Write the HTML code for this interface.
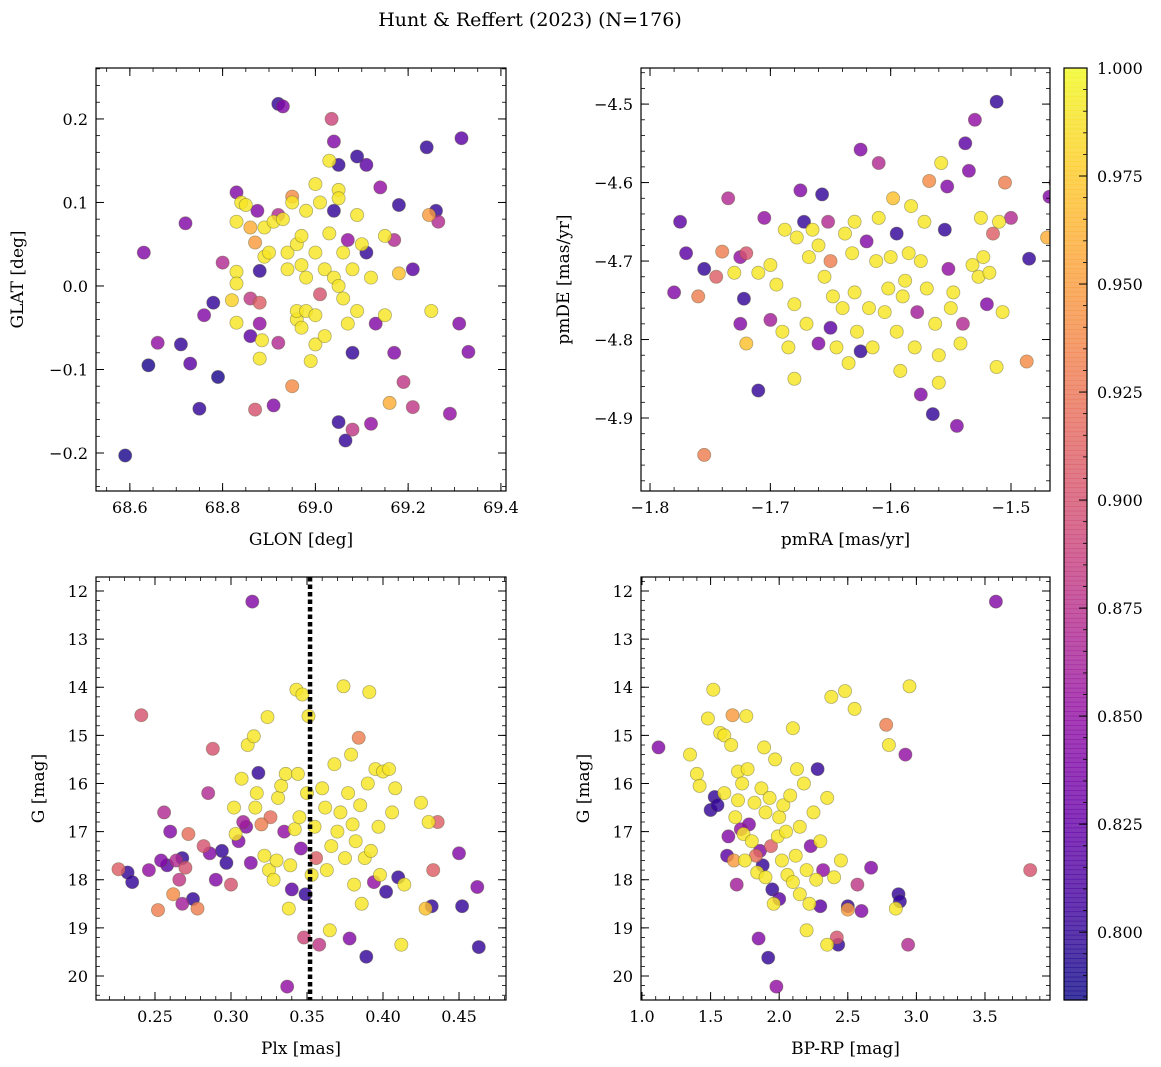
<!DOCTYPE html>
<html><head><meta charset="utf-8">
<style>
html,body{margin:0;padding:0;background:#fff;}
svg{display:block;font-family:"DejaVu Serif","Liberation Serif",serif;}
</style></head>
<body>
<svg id="fig" width="1161" height="1067" viewBox="0 0 1161 1067" xmlns="http://www.w3.org/2000/svg">
<text x="530" y="26" font-size="19" text-anchor="middle">Hunt &amp; Reffert (2023) (N=176)</text>
</svg>
<script>
// ---- data arrays ----
const glonGlat = [[68.59,-0.203,0.79],[68.63,0.04,0.84],[68.64,-0.095,0.79],[68.66,-0.068,0.85],[68.71,-0.07,0.80],[68.72,0.075,0.84],[68.73,-0.093,0.82],[68.75,-0.147,0.80],[68.76,-0.035,0.84],[68.78,-0.02,0.80],[68.79,-0.109,0.79],[68.80,0.028,0.87],[68.82,-0.017,0.98],[68.83,0.112,0.84],[68.83,0.077,0.99],[68.83,0.017,0.99],[68.83,0.003,0.99],[68.83,-0.044,0.99],[68.84,0.1,0.99],[68.85,0.097,0.99],[68.86,0.07,0.96],[68.86,-0.015,0.88],[68.86,-0.06,0.82],[68.87,-0.148,0.90],[68.87,0.052,0.95],[68.875,0.09,0.84],[68.88,0.018,0.80],[68.88,-0.045,0.85],[68.88,-0.087,0.99],[68.885,-0.065,0.99],[68.88,-0.02,0.91],[68.89,0.07,0.99],[68.89,0.035,0.99],[68.90,0.04,0.99],[68.91,-0.143,0.84],[68.91,0.077,0.99],[68.92,0.218,0.80],[68.92,0.085,0.87],[68.92,-0.068,0.87],[68.93,0.215,0.84],[68.93,0.08,0.99],[68.94,0.04,0.99],[68.94,0.02,0.99],[68.95,-0.12,0.94],[68.95,0.107,0.94],[68.95,0.1,0.99],[68.96,0.05,0.99],[68.96,-0.04,0.99],[68.96,-0.03,0.99],[68.97,0.06,0.99],[68.97,0.025,0.99],[68.97,-0.05,0.99],[68.98,0.09,0.99],[68.98,0.01,0.99],[68.98,-0.03,0.99],[68.99,-0.09,0.99],[69.0,0.122,0.99],[69.0,0.04,0.99],[69.0,-0.07,0.99],[69.0,-0.035,0.99],[69.01,0.1,0.99],[69.01,-0.01,0.90],[69.02,0.02,0.99],[69.02,-0.06,0.99],[69.03,0.063,0.99],[69.03,0.15,0.99],[69.035,0.2,0.89],[69.04,0.173,0.84],[69.04,0.09,0.80],[69.04,0.01,0.99],[69.05,0.145,0.80],[69.05,-0.163,0.80],[69.05,0.115,0.99],[69.05,0.105,0.99],[69.05,0,0.99],[69.06,-0.015,0.99],[69.06,0.04,0.99],[69.065,-0.185,0.80],[69.07,0.055,0.85],[69.07,-0.045,0.99],[69.08,-0.08,0.80],[69.08,-0.172,0.88],[69.08,0.02,0.99],[69.09,0.155,0.80],[69.09,0.085,0.99],[69.09,-0.03,0.99],[69.10,0.05,0.99],[69.11,0.145,0.82],[69.11,0.04,0.80],[69.12,-0.165,0.85],[69.12,0.01,0.99],[69.13,-0.045,0.84],[69.14,0.118,0.85],[69.15,0.06,0.99],[69.15,-0.035,0.99],[69.16,-0.14,0.96],[69.17,-0.08,0.84],[69.17,0.055,0.87],[69.18,0.097,0.80],[69.18,0.015,0.97],[69.19,-0.115,0.88],[69.21,-0.145,0.88],[69.21,0.02,0.82],[69.24,0.166,0.80],[69.245,0.085,0.95],[69.25,-0.03,0.99],[69.26,0.09,0.80],[69.265,0.077,0.87],[69.29,-0.153,0.85],[69.31,-0.045,0.84],[69.315,0.177,0.82],[69.33,-0.079,0.84]];
const pmPoints = [[-1.78,-4.74,0.84],[-1.775,-4.65,0.82],[-1.77,-4.69,0.82],[-1.76,-4.745,0.93],[-1.755,-4.71,0.80],[-1.745,-4.72,0.91],[-1.74,-4.688,0.93],[-1.735,-4.62,0.87],[-1.73,-4.715,0.99],[-1.725,-4.695,0.85],[-1.725,-4.78,0.84],[-1.722,-4.748,0.80],[-1.72,-4.69,0.90],[-1.72,-4.805,0.97],[-1.71,-4.715,0.99],[-1.71,-4.865,0.80],[-1.705,-4.645,0.85],[-1.7,-4.705,0.99],[-1.7,-4.775,0.86],[-1.695,-4.73,0.99],[-1.69,-4.79,0.99],[-1.688,-4.66,0.99],[-1.685,-4.81,0.99],[-1.68,-4.85,0.99],[-1.68,-4.755,0.99],[-1.678,-4.67,0.99],[-1.675,-4.61,0.84],[-1.672,-4.65,0.80],[-1.67,-4.78,0.99],[-1.668,-4.695,0.99],[-1.665,-4.66,0.99],[-1.66,-4.805,0.84],[-1.66,-4.68,0.99],[-1.657,-4.615,0.80],[-1.655,-4.72,0.99],[-1.652,-4.65,0.87],[-1.65,-4.7,0.93],[-1.65,-4.785,0.82],[-1.648,-4.745,0.99],[-1.645,-4.81,0.99],[-1.64,-4.76,0.99],[-1.638,-4.665,0.99],[-1.635,-4.83,0.99],[-1.632,-4.69,0.99],[-1.63,-4.74,0.99],[-1.63,-4.65,0.99],[-1.628,-4.79,0.99],[-1.625,-4.815,0.80],[-1.625,-4.558,0.84],[-1.62,-4.675,0.84],[-1.618,-4.76,0.99],[-1.615,-4.81,0.99],[-1.612,-4.7,0.99],[-1.61,-4.645,0.99],[-1.61,-4.575,0.87],[-1.605,-4.765,0.99],[-1.602,-4.735,0.99],[-1.6,-4.695,0.99],[-1.598,-4.62,0.97],[-1.595,-4.79,0.99],[-1.595,-4.665,0.80],[-1.592,-4.84,0.99],[-1.59,-4.745,0.99],[-1.588,-4.725,0.99],[-1.585,-4.69,0.99],[-1.583,-4.63,0.99],[-1.58,-4.81,0.99],[-1.578,-4.765,0.86],[-1.575,-4.87,0.84],[-1.575,-4.7,0.99],[-1.572,-4.65,0.99],[-1.57,-4.735,0.99],[-1.568,-4.598,0.94],[-1.565,-4.895,0.80],[-1.563,-4.78,0.99],[-1.56,-4.82,0.99],[-1.56,-4.855,0.99],[-1.558,-4.575,0.99],[-1.555,-4.66,0.80],[-1.553,-4.605,0.84],[-1.552,-4.71,0.85],[-1.55,-4.76,0.99],[-1.548,-4.74,0.99],[-1.545,-4.91,0.84],[-1.542,-4.805,0.99],[-1.54,-4.78,0.87],[-1.538,-4.55,0.82],[-1.535,-4.585,0.84],[-1.532,-4.705,0.99],[-1.53,-4.52,0.85],[-1.527,-4.72,0.99],[-1.525,-4.645,0.99],[-1.523,-4.695,0.99],[-1.52,-4.755,0.84],[-1.518,-4.715,0.99],[-1.515,-4.665,0.91],[-1.512,-4.835,0.99],[-1.51,-4.65,0.99],[-1.507,-4.765,0.99],[-1.505,-4.6,0.93],[-1.5,-4.645,0.87],[-1.487,-4.828,0.94],[-1.485,-4.697,0.80],[-1.47,-4.67,0.96],[-1.468,-4.618,0.84],[-1.463,-4.6,0.84],[-1.455,-4.705,0.80],[-1.512,-4.497,0.80],[-1.755,-4.947,0.93]];
const plxG = [[0.226,17.78,0.91],[0.232,17.85,0.80],[0.235,18.05,0.80],[0.241,14.58,0.90],[0.246,17.8,0.85],[0.252,18.63,0.93],[0.254,17.6,0.84],[0.256,16.6,0.87],[0.258,17.7,0.82],[0.26,17,0.84],[0.262,18.3,0.94],[0.264,17.6,0.87],[0.266,18.0,0.88],[0.268,17.55,0.80],[0.268,18.5,0.86],[0.27,17.75,0.90],[0.272,17.05,0.92],[0.275,18.4,0.80],[0.278,18.6,0.93],[0.282,17.3,0.90],[0.285,16.2,0.87],[0.286,17.45,0.84],[0.288,15.28,0.90],[0.29,18.0,0.84],[0.294,17.4,0.80],[0.297,17.65,0.80],[0.3,18.1,0.90],[0.302,16.5,0.99],[0.303,17.05,0.99],[0.305,17.2,0.84],[0.307,15.9,0.99],[0.308,16.8,0.86],[0.31,16.9,0.84],[0.311,15.2,0.99],[0.313,17.65,0.84],[0.314,12.22,0.84],[0.315,15.02,0.99],[0.316,16.5,0.99],[0.317,16.2,0.99],[0.318,15.78,0.80],[0.32,16.85,0.93],[0.322,17.5,0.99],[0.324,14.62,0.99],[0.325,17.8,0.99],[0.326,16.7,0.92],[0.328,18.0,0.99],[0.33,17.6,0.99],[0.331,16.3,0.99],[0.333,16.05,0.99],[0.335,17.0,0.85],[0.336,15.8,0.99],[0.337,20.22,0.85],[0.338,18.6,0.99],[0.339,17.7,0.99],[0.34,18.2,0.82],[0.342,16.95,0.99],[0.343,14.05,0.99],[0.344,15.8,0.99],[0.345,16.7,0.99],[0.346,17.35,0.84],[0.347,14.15,0.99],[0.348,19.2,0.89],[0.349,18.3,0.80],[0.35,16.2,0.99],[0.351,14.6,0.99],[0.353,17.9,0.99],[0.355,16.9,0.99],[0.356,17.55,0.91],[0.358,19.35,0.88],[0.36,16.1,0.99],[0.362,16.5,0.99],[0.363,17.8,0.99],[0.365,19.05,0.99],[0.366,17.3,0.99],[0.368,15.6,0.99],[0.37,17.0,0.99],[0.372,16.6,0.99],[0.374,13.98,0.99],[0.375,17.55,0.99],[0.377,16.2,0.99],[0.378,19.22,0.84],[0.379,15.4,0.99],[0.38,16.85,0.99],[0.381,18.1,0.99],[0.382,17.2,0.99],[0.384,15.05,0.93],[0.385,16.45,0.99],[0.386,18.5,0.99],[0.388,17.55,0.99],[0.389,19.6,0.80],[0.39,16.0,0.99],[0.391,14.1,0.99],[0.392,17.4,0.99],[0.394,18.05,0.85],[0.395,15.7,0.99],[0.397,16.9,0.99],[0.398,17.9,0.99],[0.4,15.75,0.99],[0.402,18.25,0.80],[0.404,15.7,0.99],[0.406,16.6,0.99],[0.408,16.1,0.99],[0.41,17.95,0.80],[0.412,19.35,0.99],[0.414,18.1,0.99],[0.425,16.4,0.99],[0.428,18.6,0.97],[0.43,16.8,0.99],[0.432,18.55,0.80],[0.433,17.8,0.91],[0.436,16.8,0.91],[0.45,17.45,0.84],[0.452,18.55,0.80],[0.462,18.15,0.84],[0.463,19.4,0.80]];
const bprpG = [[1.12,15.25,0.84],[1.35,15.4,0.99],[1.4,15.8,0.99],[1.42,16.05,0.99],[1.48,14.65,0.99],[1.5,16.55,0.80],[1.52,14.05,0.99],[1.53,16.28,0.80],[1.55,16.45,0.80],[1.57,14.95,0.99],[1.6,15.0,0.99],[1.6,16.2,0.99],[1.62,17.5,0.82],[1.63,17.1,0.84],[1.65,15.2,0.99],[1.66,14.58,0.95],[1.67,17.6,0.95],[1.68,16.7,0.99],[1.69,18.1,0.86],[1.7,15.75,0.99],[1.7,16.35,0.99],[1.72,16.95,0.85],[1.73,16.0,0.99],[1.74,17.05,0.99],[1.75,17.6,0.99],[1.76,14.6,0.99],[1.77,15.7,0.99],[1.78,16.85,0.84],[1.8,17.2,0.99],[1.82,16.4,0.99],[1.83,17.5,0.92],[1.84,17.85,0.99],[1.85,19.22,0.84],[1.86,17.4,0.84],[1.87,16.1,0.99],[1.88,17.7,0.80],[1.89,15.25,0.99],[1.9,17.95,0.99],[1.9,16.6,0.99],[1.92,19.62,0.80],[1.93,16.3,0.99],[1.94,17.3,0.91],[1.95,18.2,0.80],[1.96,18.5,0.99],[1.97,15.5,0.99],[1.98,20.22,0.85],[1.99,17.1,0.99],[2.0,16.7,0.99],[2.0,18.4,0.82],[2.02,17.6,0.99],[2.03,16.45,0.99],[2.05,17.0,0.99],[2.06,17.9,0.99],[2.08,16.25,0.99],[2.1,18.05,0.99],[2.1,14.85,0.99],[2.12,17.5,0.99],[2.13,15.7,0.99],[2.15,16.9,0.99],[2.15,18.3,0.99],[2.18,16.0,0.99],[2.2,17.8,0.99],[2.2,19.05,0.99],[2.22,18.5,0.99],[2.23,17.3,0.84],[2.25,16.6,0.99],[2.27,18.0,0.99],[2.28,15.7,0.80],[2.3,17.2,0.99],[2.3,18.55,0.82],[2.32,17.8,0.85],[2.35,19.35,0.99],[2.35,16.3,0.99],[2.38,14.2,0.99],[2.4,17.95,0.99],[2.42,19.2,0.90],[2.43,19.35,0.80],[2.45,17.6,0.99],[2.48,14.08,0.99],[2.5,18.55,0.80],[2.5,18.62,0.95],[2.55,14.45,0.99],[2.57,18.1,0.88],[2.6,18.65,0.84],[2.67,17.75,0.84],[2.78,14.78,0.93],[2.8,15.2,0.99],[2.85,18.6,0.99],[2.87,18.3,0.80],[2.88,18.45,0.80],[2.92,15.4,0.85],[2.94,19.35,0.87],[2.95,13.98,0.99],[3.58,12.22,0.84],[3.83,17.8,0.90]];
const plxCut = 0.352;
const cbTicks = [0.800,0.825,0.850,0.875,0.900,0.925,0.950,0.975,1.000];
const cbMin = 0.7843, cbMax = 1.0;

const NS = "http://www.w3.org/2000/svg";
const svg = document.getElementById('fig');
function mk(tag, attrs, parent){const e=document.createElementNS(NS,tag);for(const k in attrs)e.setAttribute(k,attrs[k]);(parent||svg).appendChild(e);return e;}

const stops=["#0d0887","#41049d","#6a00a8","#8f0da4","#b12a90","#cc4778","#e16462","#f2844b","#fca636","#fcce25","#f0f921"];
function hex(h){return [parseInt(h.substr(1,2),16),parseInt(h.substr(3,2),16),parseInt(h.substr(5,2),16)];}
function plasma(t){t=Math.max(0,Math.min(1,t));const f=t*10,i=Math.min(9,Math.floor(f)),r=f-i;const a=hex(stops[i]),b=hex(stops[i+1]);return `rgb(${a.map((v,k)=>Math.round(v+(b[k]-v)*r)).join(',')})`;}
function col(p){return plasma((p-cbMin)/(cbMax-cbMin));}

function fmt(v,d){let s=v.toFixed(d);return s.replace('-','\u2212');}

function panel(name, box, xr, yr, pts){
  const [L,T,R,B]=box;
  const sx=v=>L+(v-xr[0])/(xr[1]-xr[0])*(R-L);
  const sy=v=>B-(v-yr[0])/(yr[1]-yr[0])*(B-T);
  const g=mk('g',{});
  
  
  const clip=mk('clipPath',{id:'c'+name},g); mk('rect',{x:L,y:T,width:R-L,height:B-T},clip);
  const pg=mk('g',{'clip-path':`url(#c${name})`},g);
  
  
  const sorted=pts.slice().sort((a,b)=>a[2]-b[2]);
  sorted.forEach(d=>{
    const c=mk('circle',{cx:sx(d[0]).toFixed(1),cy:sy(d[1]).toFixed(1),r:6.6,fill:col(d[2]),'fill-opacity':0.82,stroke:'#5a5a30','stroke-width':0.8,'stroke-opacity':0.45},pg);
    
    
  });
  return {g,sx,sy,L,T,R,B};
}
function axes(P, xr, yr, xt, xminor, yt, yminor, xd, yd, xlabel, ylabel, name){
  const {g,sx,sy,L,T,R,B}=P;
  mk('rect',{x:L,y:T,width:R-L,height:B-T,fill:'none',stroke:'#000','stroke-width':1.2},g);
  const lo=Math.min(xr[0],xr[1]),hi=Math.max(xr[0],xr[1]);
  for(let v=Math.ceil(lo/xminor-1e-6)*xminor; v<=hi+1e-9; v+=xminor){const x=sx(v);mk('line',{x1:x,x2:x,y1:B,y2:B-4,stroke:'#000','stroke-width':0.8},g);mk('line',{x1:x,x2:x,y1:T,y2:T+4,stroke:'#000','stroke-width':0.8},g);}
  const ylo=Math.min(yr[0],yr[1]),yhi=Math.max(yr[0],yr[1]);
  for(let v=Math.ceil(ylo/yminor-1e-6)*yminor; v<=yhi+1e-9; v+=yminor){const y=sy(v);mk('line',{x1:L,x2:L+4,y1:y,y2:y,stroke:'#000','stroke-width':0.8},g);mk('line',{x1:R,x2:R-4,y1:y,y2:y,stroke:'#000','stroke-width':0.8},g);}
  xt.forEach(v=>{const x=sx(v);mk('line',{x1:x,x2:x,y1:B,y2:B-8,stroke:'#000','stroke-width':1},g);mk('line',{x1:x,x2:x,y1:T,y2:T+8,stroke:'#000','stroke-width':1},g);
    const t=mk('text',{x:x,y:B+22,'font-size':16,'text-anchor':'middle'},g);t.textContent=fmt(v,xd);
    
    });
  yt.forEach(v=>{const y=sy(v);mk('line',{x1:L,x2:L+8,y1:y,y2:y,stroke:'#000','stroke-width':1},g);mk('line',{x1:R,x2:R-8,y1:y,y2:y,stroke:'#000','stroke-width':1},g);
    const t=mk('text',{x:L-8,y:y+6,'font-size':16,'text-anchor':'end'},g);t.textContent=fmt(v,yd);
    
    });
  const xl=mk('text',{x:(L+R)/2,y:B+54,'font-size':17,'text-anchor':'middle'},g);xl.textContent=xlabel;
  
  
  const yl=mk('text',{x:0,y:0,'font-size':17,'text-anchor':'middle',transform:`translate(${ylabel.x},${(T+B)/2}) rotate(-90)`},g);yl.textContent=ylabel.t;
  
  
}

// Panel 1
let xr=[68.527,69.411], yr=[-0.2455,0.261];
let P=panel('glon-glat-panel',[96,68,506,491],xr,yr,glonGlat);
axes(P,xr,yr,[68.6,68.8,69.0,69.2,69.4],0.05,[-0.2,-0.1,0,0.1,0.2],0.02,1,1,'GLON [deg]',{x:23,t:'GLAT [deg]'},'glon-glat');

// Panel 2
xr=[-1.8075,-1.4676]; yr=[-4.993,-4.454];
P=panel('pm-panel',[641,68,1050,491],xr,yr,pmPoints);
axes(P,xr,yr,[-1.8,-1.7,-1.6,-1.5],0.02,[-4.9,-4.8,-4.7,-4.6,-4.5],0.02,1,1,'pmRA [mas/yr]',{x:569,t:'pmDE [mas/yr]'},'pm');

// Panel 3 (inverted y)
xr=[0.2112,0.4809]; yr=[20.499,11.709];
P=panel('plx-g-panel',[96,577,506,1000],xr,yr,plxG);
{
  const x=P.sx(plxCut);
  const ln=mk('line',{x1:x,x2:x,y1:P.T,y2:P.B,stroke:'#000','stroke-width':4.5,'stroke-dasharray':'4.5 3'},P.g);
  
  
}
axes(P,xr,yr,[0.25,0.30,0.35,0.40,0.45],0.01,[12,13,14,15,16,17,18,19,20],0.2,2,0,'Plx [mas]',{x:44,t:'G [mag]'},'plx-g');

// Panel 4
xr=[0.9927,3.974]; yr=[20.499,11.709];
P=panel('cmd-panel',[641,577,1050,1000],xr,yr,bprpG);
axes(P,xr,yr,[1.0,1.5,2.0,2.5,3.0,3.5],0.1,[12,13,14,15,16,17,18,19,20],0.2,1,0,'BP-RP [mag]',{x:589,t:'G [mag]'},'cmd');

// Colorbar
{
  const L=1064,R=1087,T=68,B=1000;
  const g=mk('g',{});
  
  
  const n=200;
  for(let i=0;i<n;i++){const y0=B-(i+1)*(B-T)/n;mk('rect',{x:L,y:y0,width:R-L,height:(B-T)/n+0.6,fill:plasma((i+0.5)/n),'fill-opacity':0.8},g);}
  mk('rect',{x:L,y:T,width:R-L,height:B-T,fill:'none',stroke:'#000','stroke-width':1.2},g);
  const sy=v=>B-(v-cbMin)/(cbMax-cbMin)*(B-T);
  for(let v=0.785; v<=1.0001; v+=0.005){const y=sy(v);mk('line',{x1:R,x2:R-4,y1:y,y2:y,stroke:'#000','stroke-width':0.8},g);}
  cbTicks.forEach(v=>{const y=sy(v);mk('line',{x1:R,x2:R-8,y1:y,y2:y,stroke:'#000','stroke-width':1},g);
    const t=mk('text',{x:R+10,y:y+6,'font-size':16},g);t.textContent=v.toFixed(3);
    
    });
}
</script>
</body></html>
